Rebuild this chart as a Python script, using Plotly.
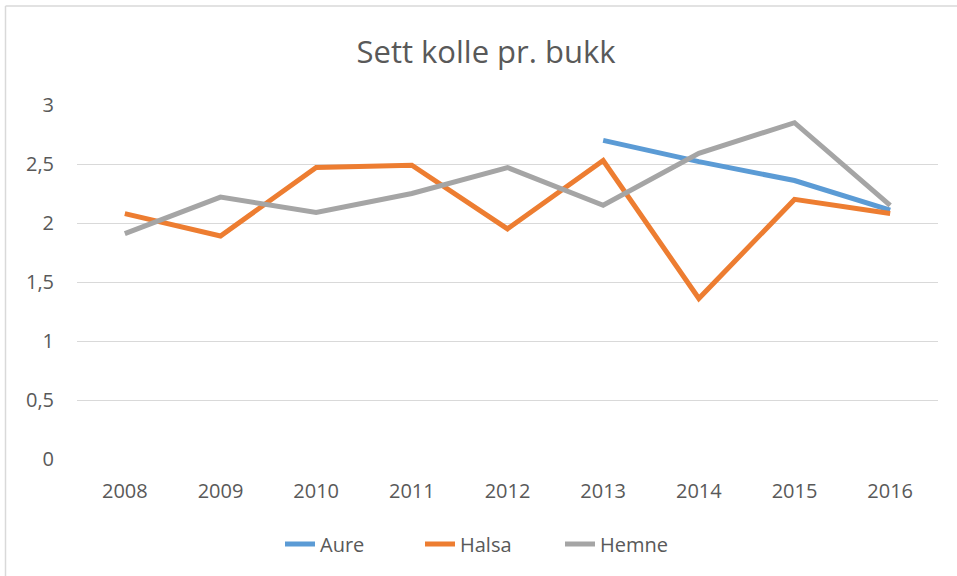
import plotly.graph_objects as go

years = ["2008", "2009", "2010", "2011", "2012", "2013", "2014", "2015", "2016"]
aure = [None, None, None, None, None, 2.70, 2.52, 2.36, 2.11]
halsa = [2.08, 1.89, 2.47, 2.49, 1.95, 2.53, 1.36, 2.20, 2.08]
hemne = [1.91, 2.22, 2.09, 2.25, 2.47, 2.15, 2.59, 2.85, 2.15]
y_ticks = [0, 0.5, 1, 1.5, 2, 2.5, 3]
y_tick_text = ["0", "0,5", "1", "1,5", "2", "2,5", "3"]

FONT = "Open Sans"
TXT = "#595959"

fig = go.Figure()
for name, vals, col in [("Aure", aure, "#5B9BD5"), ("Halsa", halsa, "#ED7D31"), ("Hemne", hemne, "#A5A5A5")]:
    fig.add_trace(go.Scatter(x=years, y=vals, name=name, mode="lines",
                             line=dict(color=col, width=5), connectgaps=False))

W, H = 957, 576
L, R, T, B = 77, 19, 105, 117
ph = H - T - B
pw = W - L - R

fig.update_layout(
    width=W, height=H,
    margin=dict(l=L, r=R, t=T, b=B),
    paper_bgcolor="white", plot_bgcolor="white",
    title=dict(text="Sett kolle pr. bukk", x=(486 / W), xanchor="center",
               y=1 - 52 / H, yanchor="middle", yref="container",
               font=dict(family=FONT, size=31, color=TXT)),
    xaxis=dict(type="category", range=[-0.5, 8.5], showgrid=False, zeroline=False,
               showline=False, ticks="", ticklabelstandoff=18,
               tickfont=dict(family=FONT, size=20, color=TXT)),
    yaxis=dict(range=[0, 3], tickvals=y_ticks, ticktext=y_tick_text,
               showgrid=True, gridcolor="#D9D9D9", gridwidth=1.3, zeroline=False,
               showline=False, ticks="", ticklabelstandoff=22,
               tickfont=dict(family=FONT, size=20, color=TXT)),
    legend=dict(orientation="h", x=(490 - L) / pw, xanchor="center", y=(T + ph - 544) / ph,
                yanchor="middle", font=dict(family=FONT, size=20, color=TXT),
                itemwidth=30, tracegroupgap=0, entrywidth=95, entrywidthmode="pixels"),
    showlegend=True,
)

def px_x(p):
    return (p - L) / pw

def px_y(p):
    return (T + ph - p) / ph

fig.add_shape(type="line", xref="paper", yref="paper",
              x0=px_x(5.5), x1=px_x(5.5), y0=px_y(580), y1=px_y(6),
              line=dict(color="#D9D9D9", width=1.5))
fig.add_shape(type="line", xref="paper", yref="paper",
              x0=px_x(5.5), x1=px_x(960), y0=px_y(6), y1=px_y(6),
              line=dict(color="#D9D9D9", width=1.5))

fig.write_html("out.html", config={"displayModeBar": False},
               post_script="document.body.style.margin='0';document.body.style.overflow='hidden';")
